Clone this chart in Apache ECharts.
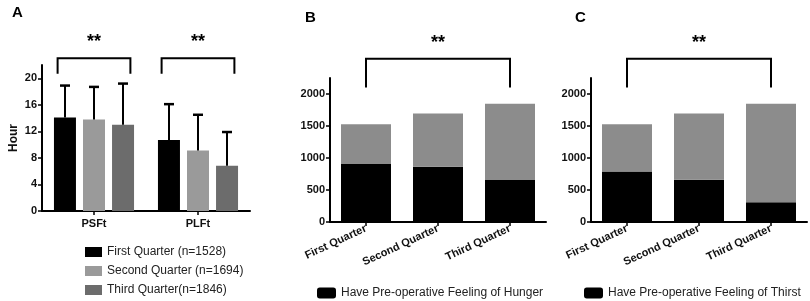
<!DOCTYPE html>
<html lang="en">
<head>
    <meta charset="UTF-8">
    <title>Quarter comparison</title>
    <script src="https://cdn.jsdelivr.net/npm/echarts@6/dist/echarts.min.js"></script>
    <style>
        html, body { margin: 0; padding: 0; background: #fff; }
        #chart { width: 810px; height: 301px; }
    </style>
</head>
<body>
<div id="chart"></div>
<script>
    // panel A: mean hours with upper error
    var groupsA = ['PSFt', 'PLFt'];
    var quarterNames = ['First Quarter (n=1528)', 'Second Quarter (n=1694)', 'Third Quarter(n=1846)'];
    var meanA = [[14.1, 10.7], [13.8, 9.1], [13.0, 6.8]];
    var upperA = [[18.9, 16.1], [18.7, 14.5], [19.2, 11.9]];
    var ticksA = [0, 4, 8, 12, 16, 20];

    // panels B and C: counts per quarter
    var quarters = ['First Quarter', 'Second Quarter', 'Third Quarter'];
    var totals = [1528, 1694, 1846];
    var hungerYes = [905, 865, 655];
    var thirstYes = [790, 660, 310];
    var ticksBC = [0, 500, 1000, 1500, 2000];

    // significance brackets: [from, to, top, leg, starLevel]
    var bracketsA = [[0, 0, 23.0, 20.7, 25.4], [1, 1, 23.0, 20.7, 25.4]];
    var bracketB = [[0, 2, 2550, 2100, 2790]];
    var bracketC = [[0, 2, 2550, 2100, 2790]];

    var font = 'Arial, "Liberation Sans", sans-serif';
    var colorsA = ['#000000', '#9a9a9a', '#6c6c6c'];
    var grayTop = '#8c8c8c';

    var chart = echarts.init(document.getElementById('chart'));

    function bracketRender(halfFrac) {
        return function (params, api) {
            var band = api.size([1, 0])[0];
            var a = api.coord([api.value(0), api.value(2)]);
            var b = api.coord([api.value(1), api.value(2)]);
            var legY = api.coord([api.value(0), api.value(3)])[1];
            var starY = api.coord([api.value(0), api.value(4)])[1];
            var x1 = a[0] - band * halfFrac;
            var x2 = b[0] + band * halfFrac;
            return {
                type: 'group',
                children: [{
                    type: 'polyline',
                    shape: { points: [[x1, legY], [x1, a[1]], [x2, a[1]], [x2, legY]] },
                    style: { stroke: '#000', lineWidth: 2, fill: null }
                }, {
                    type: 'text',
                    x: (x1 + x2) / 2, y: starY,
                    style: { text: '**', font: 'bold 18px ' + font, fill: '#000', align: 'center', verticalAlign: 'middle' }
                }]
            };
        };
    }

    function errorRender(qi) {
        return function (params, api) {
            var off = (qi - 1) * 29;
            var base = api.coord([api.value(0), api.value(1)]);
            var top = api.coord([api.value(0), api.value(2)]);
            var x = base[0] + off;
            return {
                type: 'group',
                children: [{
                    type: 'line',
                    shape: { x1: x, y1: base[1], x2: x, y2: top[1] },
                    style: { stroke: '#000', lineWidth: 2 }
                }, {
                    type: 'line',
                    shape: { x1: x - 5, y1: top[1], x2: x + 5, y2: top[1] },
                    style: { stroke: '#000', lineWidth: 2.5 }
                }]
            };
        };
    }

    var axisText = { color: '#111', fontWeight: 'bold', fontSize: 11, fontFamily: font };
    var axisLine = { show: true, lineStyle: { color: '#000', width: 2 } };
    var axisTick = { show: true, length: 4, lineStyle: { color: '#000', width: 1.5 } };
    var plain = function (v) { return String(v); };

    var series = [];
    quarterNames.forEach(function (name, i) {
        series.push({
            name: name, type: 'bar', xAxisIndex: 0, yAxisIndex: 0,
            data: meanA[i], barWidth: 22, barGap: '32%',
            itemStyle: { color: colorsA[i] }
        });
    });
    quarterNames.forEach(function (name, i) {
        series.push({
            type: 'custom', xAxisIndex: 0, yAxisIndex: 0, z: 5, clip: false,
            renderItem: errorRender(i),
            data: groupsA.map(function (g, j) { return [j, meanA[i][j], upperA[i][j]]; })
        });
    });
    series.push({ type: 'custom', xAxisIndex: 0, yAxisIndex: 0, clip: false, renderItem: bracketRender(0.35), data: bracketsA });

    series.push({
        name: 'Have Pre-operative Feeling of Hunger', type: 'bar', stack: 'b', xAxisIndex: 1, yAxisIndex: 1,
        data: hungerYes, barWidth: 50, itemStyle: { color: '#000' }
    });
    series.push({
        name: 'No Feeling of Hunger', type: 'bar', stack: 'b', xAxisIndex: 1, yAxisIndex: 1,
        data: totals.map(function (t, i) { return t - hungerYes[i]; }), barWidth: 50, itemStyle: { color: grayTop }
    });
    series.push({ type: 'custom', xAxisIndex: 1, yAxisIndex: 1, clip: false, renderItem: bracketRender(0), data: bracketB });

    series.push({
        name: 'Have Pre-operative Feeling of Thirst', type: 'bar', stack: 'c', xAxisIndex: 2, yAxisIndex: 2,
        data: thirstYes, barWidth: 50, itemStyle: { color: '#000' }
    });
    series.push({
        name: 'No Feeling of Thirst', type: 'bar', stack: 'c', xAxisIndex: 2, yAxisIndex: 2,
        data: totals.map(function (t, i) { return t - thirstYes[i]; }), barWidth: 50, itemStyle: { color: grayTop }
    });
    series.push({ type: 'custom', xAxisIndex: 2, yAxisIndex: 2, clip: false, renderItem: bracketRender(0), data: bracketC });

    var legendText = { color: '#222', fontSize: 12, fontFamily: font };
    var letterStyle = { fontSize: 15, fontWeight: 'bold', color: '#000', fontFamily: font };

    var option = {
        animation: false,
        textStyle: { fontFamily: font },
        title: [
            { text: 'A', left: 7, top: 0, textStyle: letterStyle },
            { text: 'B', left: 300, top: 5, textStyle: letterStyle },
            { text: 'C', left: 570, top: 5, textStyle: letterStyle }
        ],
        legend: [
            { data: quarterNames, orient: 'vertical', left: 80, top: 241, height: 70, itemWidth: 17, itemHeight: 10, itemGap: 7,
              icon: 'rect', textStyle: legendText, selectedMode: false },
            { data: ['Have Pre-operative Feeling of Hunger'], left: 312, top: 282, itemWidth: 19, itemHeight: 11,
              icon: 'roundRect', textStyle: legendText, selectedMode: false },
            { data: ['Have Pre-operative Feeling of Thirst'], left: 579, top: 282, itemWidth: 19, itemHeight: 11,
              icon: 'roundRect', textStyle: legendText, selectedMode: false }
        ],
        grid: [
            { left: 42, width: 208, top: 65, bottom: 90 },
            { left: 330, width: 216, top: 78, bottom: 79 },
            { left: 591, width: 216, top: 78, bottom: 79 }
        ],
        xAxis: [
            { type: 'category', gridIndex: 0, data: groupsA, axisLine: axisLine,
              axisTick: { show: true, alignWithLabel: true, length: 4, lineStyle: { color: '#000', width: 1.5 } },
              axisLabel: Object.assign({ margin: 7 }, axisText) },
            { type: 'category', gridIndex: 1, data: quarters, axisLine: axisLine,
              axisTick: { show: true, alignWithLabel: true, length: 4, lineStyle: { color: '#000', width: 1.5 } },
              axisLabel: Object.assign({ rotate: 25, margin: 6, interval: 0 }, axisText) },
            { type: 'category', gridIndex: 2, data: quarters, axisLine: axisLine,
              axisTick: { show: true, alignWithLabel: true, length: 4, lineStyle: { color: '#000', width: 1.5 } },
              axisLabel: Object.assign({ rotate: 25, margin: 6, interval: 0 }, axisText) }
        ],
        yAxis: [
            { type: 'value', gridIndex: 0, min: 0, max: 22, splitLine: { show: false },
              name: 'Hour', nameLocation: 'middle', nameGap: 22,
              nameTextStyle: { fontWeight: 'bold', fontSize: 12, color: '#111', fontFamily: font },
              axisLine: axisLine, axisTick: Object.assign({ customValues: ticksA }, axisTick),
              axisLabel: Object.assign({ customValues: ticksA, margin: 5, formatter: plain }, axisText) },
            { type: 'value', gridIndex: 1, min: 0, max: 2250, splitLine: { show: false },
              axisLine: axisLine, axisTick: Object.assign({ customValues: ticksBC }, axisTick),
              axisLabel: Object.assign({ customValues: ticksBC, margin: 5, formatter: plain }, axisText) },
            { type: 'value', gridIndex: 2, min: 0, max: 2250, splitLine: { show: false },
              axisLine: axisLine, axisTick: Object.assign({ customValues: ticksBC }, axisTick),
              axisLabel: Object.assign({ customValues: ticksBC, margin: 5, formatter: plain }, axisText) }
        ],
        series: series
    };

    chart.setOption(option);
</script>
</body>
</html>
